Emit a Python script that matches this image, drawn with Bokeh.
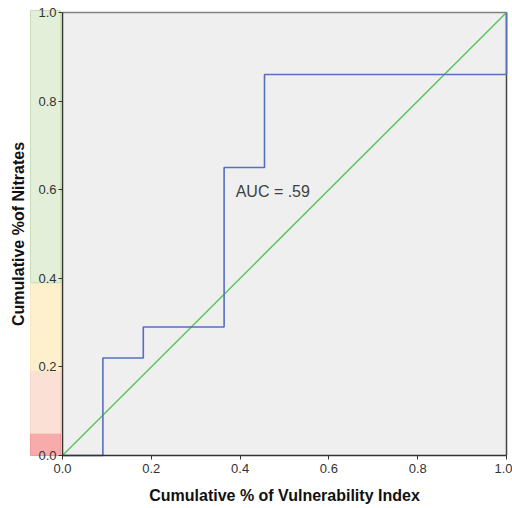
from bokeh.plotting import figure
from bokeh.models import Range1d, Label, FixedTicker, PrintfTickFormatter
from bokeh.embed import file_html
from bokeh.resources import INLINE

# ROC step curve (cumulative % of vulnerability index vs cumulative % of nitrates)
roc_x = [0.0, 0.091, 0.182, 0.364, 0.455, 1.0]
roc_y = [0.0, 0.22, 0.29, 0.65, 0.86, 1.0]
# reference diagonal
ref_x = [0.0, 1.0]
ref_y = [0.0, 1.0]
# coloured classes along the y axis
band_bottom = [0.0, 0.05, 0.19, 0.39]
band_top = [0.05, 0.19, 0.39, 1.0045]
band_colors = ["#f8abab", "#fbe1d5", "#fef0cd", "#e3efd8"]
band_line_colors = ["#f29a9a", "#f6d6c8", "#f8e8c0", "#c9dfb6"]
ticks = [0.0, 0.2, 0.4, 0.6, 0.8, 1.0]
auc_text = "AUC = .59"

p = figure(width=512, height=508, x_range=Range1d(-0.1396, 1.0135), y_range=Range1d(-0.1196, 1.0271),
           output_backend="svg", toolbar_location=None,
           min_border_left=0, min_border_right=0, min_border_top=0, min_border_bottom=0)
p.outline_line_color = None
p.background_fill_color = "white"
p.border_fill_color = "white"
p.grid.visible = False

# bands outside the plotting area, left of the y axis
p.quad(left=-0.072, right=-0.0045, bottom=band_bottom, top=band_top,
       fill_color=band_colors, line_color=band_line_colors, line_width=1)

# plot area background
p.quad(left=[0.0], right=[1.0], bottom=[0.0], top=[1.0], fill_color="#efefef", line_color=None)
p.line([0.0, 1.0], [1.0, 1.0], line_color="#808080", line_width=1.5)
p.line([1.0, 1.0], [0.0, 1.0], line_color="#444444", line_width=1.5)

p.line(ref_x, ref_y, line_color="#5cc45c", line_width=1.5)
p.step(roc_x, roc_y, mode="after", line_color="#5470c0", line_width=1.6)

p.add_layout(Label(x=0.39, y=0.596, text=auc_text, text_font="Liberation Sans",
                   text_font_size="16px", text_color="#404040", text_baseline="middle"))

# axes, anchored at the data origin
p.xaxis.bounds = (0.0, 1.0)
p.yaxis.bounds = (0.0, 1.0)
p.xaxis.fixed_location = 0.0
p.yaxis.fixed_location = 0.0
for ax in (p.xaxis, p.yaxis):
    ax.ticker = FixedTicker(ticks=ticks)
    ax.formatter = PrintfTickFormatter(format="%.1f")
    ax.minor_tick_line_color = None
    ax.major_tick_in = 0
    ax.major_tick_out = 4
    ax.axis_line_color = "#333333"
    ax.axis_line_width = 1.5
    ax.major_tick_line_color = "#333333"
    ax.major_label_text_font = "Liberation Sans"
    ax.major_label_text_font_size = "13px"
    ax.major_label_text_color = "#333333"
    ax.axis_label_text_font = "Liberation Sans"
    ax.axis_label_text_font_style = "bold"
    ax.axis_label_text_font_size = "16px"
    ax.axis_label_text_color = "#111111"

p.xaxis.axis_label = "Cumulative % of Vulnerability Index"
p.yaxis.axis_label = "Cumulative %of Nitrates"
p.xaxis.major_label_standoff = 4
p.xaxis.axis_label_standoff = 11
p.yaxis.major_label_standoff = 2
p.yaxis.axis_label_standoff = 8

open("out.html", "w").write(file_html(p, INLINE))
